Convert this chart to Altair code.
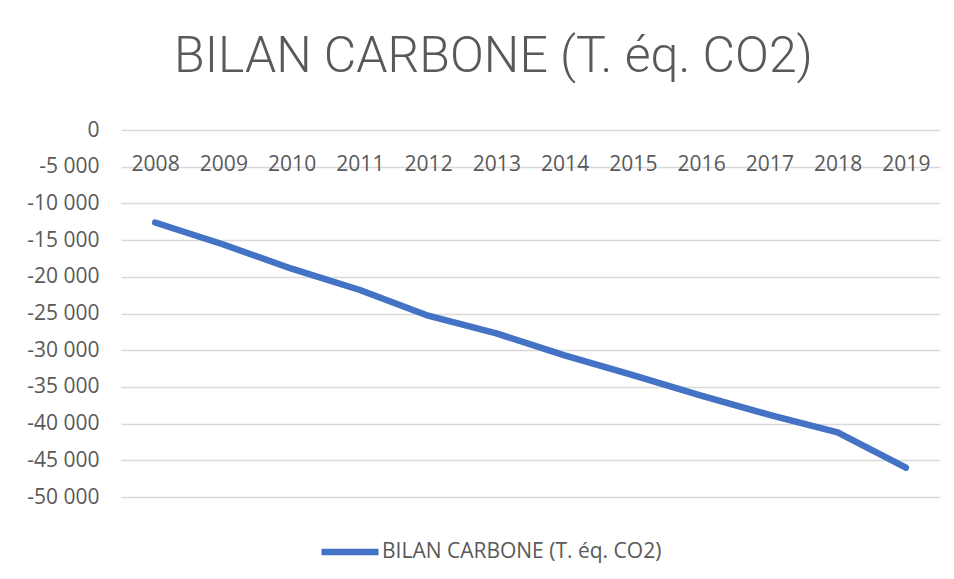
import altair as alt
import pandas as pd

years = ["2008", "2009", "2010", "2011", "2012", "2013",
         "2014", "2015", "2016", "2017", "2018", "2019"]
values = [-12600, -15600, -18900, -21800, -25300, -27700,
          -30700, -33400, -36200, -38800, -41200, -46000]
series_name = "BILAN CARBONE (T. éq. CO2)"
y_ticks = list(range(-50000, 1, 5000))

df = pd.DataFrame({"year": years, "value": values, "series": series_name})

LABEL_FONT = "Open Sans"
GREY = "#595959"

label_expr = "(datum.value < 0 ? '-' : '') + replace(format(abs(datum.value), ','), ',', ' ')"

chart = alt.Chart(df).mark_line(
    strokeWidth=6.5, strokeCap="round", strokeJoin="round"
).encode(
    x=alt.X("year:O", sort=years,
            scale=alt.Scale(type="point", padding=0.5),
            axis=alt.Axis(title=None, orient="bottom", offset=-367,
                          domain=False, ticks=False, grid=False,
                          labelAngle=0, labelBaseline="top", labelPadding=23,
                          labelFont=LABEL_FONT, labelFontSize=21, labelColor=GREY)),
    y=alt.Y("value:Q",
            scale=alt.Scale(domain=[-50000, 0], nice=False, zero=False),
            axis=alt.Axis(title=None, values=y_ticks, labelExpr=label_expr,
                          domain=False, ticks=False, grid=True,
                          gridColor="#d9d9d9", gridWidth=1.3,
                          labelPadding=22, labelFont=LABEL_FONT, labelFontSize=21,
                          labelColor=GREY)),
    color=alt.Color("series:N",
                    scale=alt.Scale(range=["#4472C4"]),
                    legend=alt.Legend(title=None, orient="none",
                                      legendX=197, legendY=390,
                                      symbolType="stroke", symbolSize=3249,
                                      symbolStrokeWidth=6.5, labelOffset=0,
                                      labelFont=LABEL_FONT, labelFontSize=21,
                                      labelColor=GREY, labelLimit=0)),
).properties(
    width=819,
    height=367,
    padding={"left": 113, "top": 122, "right": 6, "bottom": 74},
    autosize=alt.AutoSizeParams(type="none"),
    title=alt.TitleParams(series_name, font="Roboto",
                          fontSize=50, fontWeight=300, color=GREY,
                          anchor="middle", dx=-37, baseline="alphabetic",
                          offset=-3),
).configure_view(stroke=None)

chart.save("out.html", embed_options={"renderer": "svg", "actions": False})
